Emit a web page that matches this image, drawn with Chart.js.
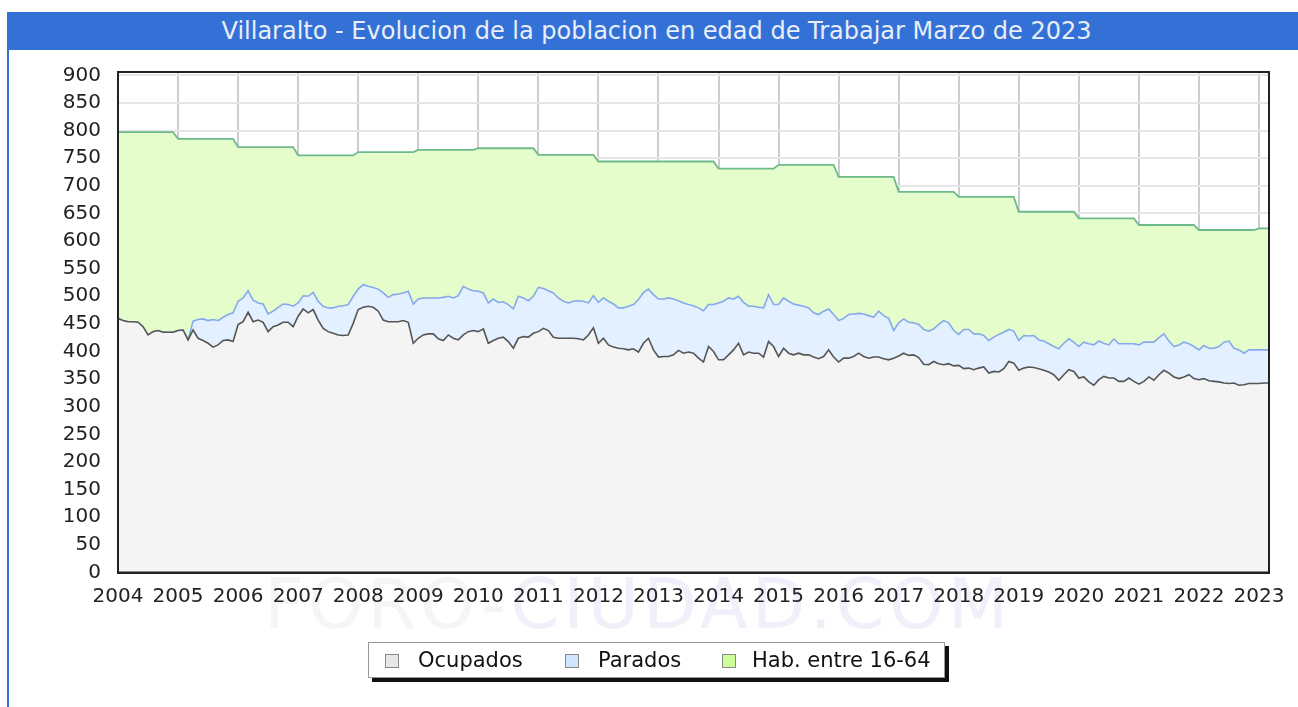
<!DOCTYPE html>
<html>
<head>
<meta charset="utf-8">
<script src="https://cdn.jsdelivr.net/npm/chart.js@4.4.1/dist/chart.umd.min.js"></script>
<style>
  html, body { margin:0; padding:0; background:#fff; width:1298px; height:707px; overflow:hidden; font-family:"DejaVu Sans", sans-serif; }
  #titlebar { position:absolute; left:7px; top:12px; width:1291px; height:38px; background:#3471d6; color:#e9eefa; font-size:24px; line-height:38px; text-align:center; z-index:3; }
  #titlebar span { position:relative; left:4px; }
  #leftline { position:absolute; left:7px; top:50px; width:2px; height:657px; background:#3471d6; z-index:3; }
  #wm { position:absolute; left:264px; top:563px; font-size:70px; letter-spacing:4px; z-index:0; white-space:nowrap; }
  #wm .a { color:#f5f5f5; } #wm .b { color:#f0f0fb; }
  canvas { position:absolute; left:0; top:0; z-index:1; }
  #legend { position:absolute; left:368px; top:642px; width:575px; height:34px; border:1px solid #999; background:#fff; box-shadow:4px 4px 0 #111; z-index:2; font-size:21px; color:#111; }
  #legend .sw { position:absolute; top:11px; width:12px; height:12px; border:1px solid #888; }
  #legend .tx { position:absolute; top:5px; line-height:24px; white-space:nowrap; }
</style>
</head>
<body>
<div id="titlebar"><span>Villaralto - Evolucion de la poblacion en edad de Trabajar Marzo de 2023</span></div>
<div id="leftline"></div>
<div id="wm"><span class="a">FORO-</span><span class="b">CIUDAD.COM</span></div>
<canvas id="c" width="1298" height="707"></canvas>
<div id="legend">
  <div class="sw" style="left:16px;background:#e8e8e8"></div><div class="tx" style="left:49px">Ocupados</div>
  <div class="sw" style="left:196px;background:#cfe5ff"></div><div class="tx" style="left:229px">Parados</div>
  <div class="sw" style="left:353px;background:#ccff99"></div><div class="tx" style="left:383px">Hab. entre 16-64</div>
</div>
<script>
// Monthly series from January 2004 to March 2023
const startYear = 2004;
const years = [2004,2005,2006,2007,2008,2009,2010,2011,2012,2013,2014,2015,2016,2017,2018,2019,2020,2021,2022,2023];
const yTicks = [0,50,100,150,200,250,300,350,400,450,500,550,600,650,700,750,800,850,900];

const ocupados = [
  460,456,454,454,453,445,430,436,438,435,435,435,
  438,439,421,439,424,420,415,408,412,420,421,418,
  449,454,471,454,457,453,436,445,448,453,453,445,
  464,477,470,476,457,442,436,433,430,429,430,451,
  476,480,482,480,473,457,454,454,454,456,453,415,
  424,430,432,432,423,420,430,424,421,430,436,438,
  436,441,415,420,424,426,418,406,424,427,426,433,
  436,442,438,426,424,424,424,424,423,421,430,443,
  415,424,412,408,406,405,403,405,399,415,424,403,
  390,391,391,394,402,397,399,397,388,381,409,400,
  385,385,394,403,415,394,399,397,397,390,418,409,
  391,406,397,394,397,394,394,390,387,391,403,390,
  381,388,388,391,397,391,388,390,390,387,385,388,
  392,397,393,394,389,377,376,382,378,376,378,374,
  375,369,370,367,370,372,361,364,363,369,382,379,
  366,370,372,371,369,366,363,358,348,358,367,364,
  352,354,345,339,349,355,352,352,346,346,352,346,
  341,346,354,348,358,366,361,354,351,354,358,351,
  349,351,347,346,345,343,342,343,339,340,342,342,
  342,343,343
];

const parados = [
  0,0,0,0,0,0,0,0,0,0,0,0,
  0,0,0,16,34,39,41,50,44,42,46,52,
  42,43,39,39,31,33,32,28,32,33,32,37,
  24,24,30,31,34,40,43,46,52,54,55,49,
  37,41,36,36,40,49,44,49,50,50,56,71,
  71,67,65,65,74,78,70,73,80,88,77,72,
  73,65,73,75,65,64,67,71,76,70,66,67,
  80,72,72,80,73,67,64,67,69,70,58,58,
  74,73,79,78,73,74,79,80,95,92,89,100,
  105,104,106,101,90,91,86,86,91,93,76,85,
  103,106,103,92,85,95,83,85,83,89,85,76,
  94,91,94,92,87,88,85,80,80,82,74,77,
  75,72,79,77,72,77,77,72,83,78,75,50,
  60,62,60,58,60,63,61,59,71,80,74,64,
  56,71,70,65,62,57,59,62,68,66,58,58,
  54,59,56,58,52,53,51,51,57,57,56,53,
  57,63,69,73,70,60,60,71,68,68,62,68,
  71,71,63,69,67,66,58,55,61,63,56,58,
  54,60,59,60,64,74,77,63,64,57,61,61,
  61,60,60
];

// Habitantes entre 16-64, one value per year (padron)
const habitantes = [797,785,770,755,761,765,768,756,744,744,731,738,716,689,680,653,641,629,620,623];

const n = ocupados.length;
const xOf = i => startYear + i / 12;
const ocupPts = ocupados.map((v, i) => ({x: xOf(i), y: v}));
const totalPts = ocupados.map((v, i) => ({x: xOf(i), y: v + parados[i]}));
const habPts = ocupados.map((v, i) => ({x: xOf(i), y: habitantes[Math.floor(i / 12)]}));

const FONT = {family: '"DejaVu Sans", sans-serif', size: 20};

const framePlugin = {
  id: 'frame',
  afterDraw(chart) {
    const {ctx, chartArea: a} = chart;
    ctx.save();
    ctx.strokeStyle = '#222';
    ctx.lineWidth = 2;
    ctx.strokeRect(a.left, a.top, a.right - a.left, a.bottom - a.top);
    ctx.restore();
  }
};

new Chart(document.getElementById('c'), {
  type: 'line',
  data: {
    datasets: [
      { label: 'Ocupados', data: ocupPts, borderColor: '#555555', backgroundColor: '#f4f4f4', fill: 'origin', borderWidth: 1.6, pointRadius: 0, order: 0 },
      { label: 'Parados', data: totalPts, borderColor: '#86a9ec', backgroundColor: '#e3f0ff', fill: '-1', borderWidth: 1.6, pointRadius: 0, order: 1 },
      { label: 'Hab. entre 16-64', data: habPts, borderColor: '#6dbb8c', backgroundColor: '#e5fccb', fill: '-1', borderWidth: 1.8, pointRadius: 0, order: 2 }
    ]
  },
  options: {
    responsive: false,
    animation: false,
    devicePixelRatio: 1,
    layout: { padding: { left: 0, top: 72, right: 29, bottom: 0 } },
    plugins: { legend: { display: false }, title: { display: false }, tooltip: { enabled: false } },
    elements: { line: { tension: 0 } },
    scales: {
      x: {
        type: 'linear',
        min: startYear,
        max: xOf(n - 1),
        z: 1,
        afterFit: s => { s.height = 134.5; },
        afterBuildTicks: s => { s.ticks = years.map(v => ({value: v})); },
        ticks: { stepSize: 1, includeBounds: false, callback: v => String(v), font: FONT, color: '#222', padding: 12, maxRotation: 0, autoSkip: false },
        grid: { color: '#cccccc', lineWidth: 2, drawTicks: false },
        border: { display: true, color: '#222', width: 2 }
      },
      y: {
        min: 0,
        max: 906,
        z: 1,
        afterFit: s => { s.width = 118; },
        afterBuildTicks: s => { s.ticks = yTicks.map(v => ({value: v})); },
        ticks: { stepSize: 50, includeBounds: false, font: FONT, color: '#222', padding: 17 },
        grid: { color: '#e6e6e6', lineWidth: 2, drawTicks: false },
        border: { display: true, color: '#222', width: 2 }
      }
    }
  },
  plugins: [framePlugin]
});
</script>
</body>
</html>
